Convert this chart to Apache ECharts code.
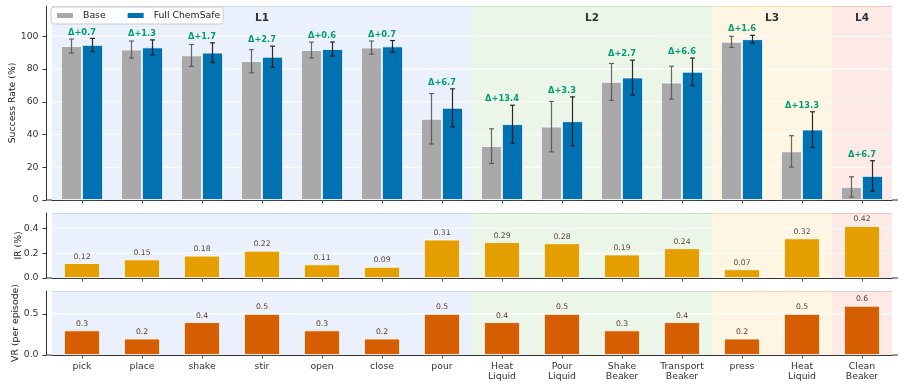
<!DOCTYPE html>
<html><head><meta charset="utf-8">
<script src="https://cdn.jsdelivr.net/npm/echarts@6/dist/echarts.min.js"></script>
<style>html,body{margin:0;padding:0;background:#fff}#c{width:905px;height:388px}</style>
</head><body><div id="c"></div>
<script>
const categories = ['pick','place','shake','stir','open','close','pour','Heat\nLiquid','Pour\nLiquid','Shake\nBeaker','Transport\nBeaker','press','Heat\nLiquid','Clean\nBeaker'];
const baseSR  = [94.0,91.9,88.3,84.8,91.6,93.1,49.6,32.9,44.8,72.1,71.7,96.6,29.7,8.0];
const baseErr = [4.3,5.2,6.7,7.1,4.8,4.0,15.4,10.6,15.4,11.3,10.0,3.4,9.6,6.2];
const fullSR  = [94.7,93.2,90.0,87.5,92.2,93.8,56.3,46.3,48.1,74.8,78.3,98.2,43.0,14.7];
const fullErr = [4.0,4.6,6.0,6.5,4.3,3.6,11.6,11.6,14.9,10.6,8.4,2.4,10.9,9.3];
const deltas  = ['+0.7','+1.3','+1.7','+2.7','+0.6','+0.7','+6.7','+13.4','+3.3','+2.7','+6.6','+1.6','+13.3','+6.7'];
const irValues = [0.12,0.15,0.18,0.22,0.11,0.09,0.31,0.29,0.28,0.19,0.24,0.07,0.32,0.42];
const vrValues = [0.3,0.2,0.4,0.5,0.3,0.2,0.5,0.4,0.5,0.3,0.4,0.2,0.5,0.6];
const levels = ['L1','L2','L3','L4'];
const levelStart = [0,7,11,13];
const levelEnd   = [6,10,12,13];
const srTicks = [0,20,40,60,80,100];
const irTicks = [0,0.2,0.4];
const vrTicks = [0,0.5];
const srMax = 118.5, irMax = 0.525, vrMax = 0.78;
const levelLabelValue = 111;

const FONT = 'DejaVu Sans';
const bandFill = ['#eaf1fc','#ebf6e9','#fef5e2','#fde9e6'];
const bandEdge = ['#c8dbf3','#c5e4bf','#f4dcb0','#f3c6bd'];

const chart = echarts.init(document.getElementById('c'), null, {renderer:'canvas'});

function bandRender(ticks, ymax, showText){
  return function(params, api){
    const s = api.value(0), e = api.value(1), li = api.value(2);
    const w = api.size([1,0])[0];
    const pTop = api.coord([s, ymax]);
    const pEnd = api.coord([e, 0]);
    const x0 = pTop[0]-w/2, x1 = pEnd[0]+w/2, y0 = pTop[1], y1 = pEnd[1];
    const children = [{type:'rect', shape:{x:x0,y:y0,width:x1-x0,height:y1-y0}, style:{fill:bandFill[li]}}];
    ticks.forEach(t=>{
      if(t<=0) return;
      const y = api.coord([s,t])[1];
      children.push({type:'line', shape:{x1:x0,y1:y,x2:x1,y2:y}, style:{stroke:'#ffffff',lineWidth:1.2}});
    });
    children.push({type:'line', shape:{x1:x0,y1:y0+0.5,x2:x1,y2:y0+0.5}, style:{stroke:bandEdge[li],lineWidth:1}});
    if(showText){
      const ty = api.coord([s, levelLabelValue])[1];
      children.push({type:'text', style:{text:levels[li], x:(x0+x1)/2, y:ty, align:'center', verticalAlign:'middle', fill:'#333', font:'bold 10.5px '+FONT}});
    }
    return {type:'group', children};
  };
}
function errRender(offset, color){
  return function(params, api){
    const i=api.value(0), v=api.value(1), e=api.value(2);
    const pHi=api.coord([i, v+e]), pLo=api.coord([i, v-e]);
    const x = pHi[0]+offset;
    const st = {stroke:color, lineWidth:1.2};
    return {type:'group', children:[
      {type:'line', shape:{x1:x,y1:pHi[1],x2:x,y2:pLo[1]}, style:st},
      {type:'line', shape:{x1:x-2.5,y1:pHi[1],x2:x+2.5,y2:pHi[1]}, style:st},
      {type:'line', shape:{x1:x-2.5,y1:pLo[1],x2:x+2.5,y2:pLo[1]}, style:st}
    ]};
  };
}
const bandData = levels.map((n,i)=>[levelStart[i], levelEnd[i], i]);
const grids = [
  {left:52, width:840, top:6, height:194, containLabel:false, outerBoundsMode:'none'},
  {left:52, width:840, top:213, height:65, containLabel:false, outerBoundsMode:'none'},
  {left:52, width:840, top:291, height:64, containLabel:false, outerBoundsMode:'none'}
];
function xAx(gi, showLabel){
  return {type:'category', gridIndex:gi, data:categories, boundaryGap:true,
    axisLine:{show:true, lineStyle:{color:'#333', width:1}},
    axisTick:{show:true, alignWithLabel:true, length:3.5, lineStyle:{color:'#555', width:1}},
    axisLabel:{show:showLabel, interval:0, fontFamily:FONT, fontSize:9.3, color:'#333', lineHeight:10.5, margin:6},
    splitLine:{show:false}};
}
function yAx(gi, max, ticks, name, gap, fmt){
  return {type:'value', gridIndex:gi, min:0, max:max, offset:6,
    name:name, nameLocation:'middle', nameGap:gap, nameRotate:90, nameMoveOverlap:false,
    nameTextStyle:{fontFamily:FONT, fontSize:9.3, color:'#222'},
    axisLine:{show:true, lineStyle:{color:'#333', width:1}},
    axisTick:{show:true, length:3.5, customValues:ticks, lineStyle:{color:'#333'}},
    axisLabel:{show:true, customValues:ticks, formatter:fmt, fontFamily:FONT, fontSize:9.3, color:'#333', margin:7.5},
    splitLine:{show:false}};
}
const option = {
  animation:false,
  backgroundColor:'#ffffff',
  textStyle:{fontFamily:FONT},
  grid:grids,
  legend:{show:true, left:51, top:7, orient:'horizontal', data:['Base','Full ChemSafe'], icon:'rect', itemWidth:18, itemHeight:7, itemGap:20,
    padding:[4,3,4,4], backgroundColor:'rgba(255,255,255,0.85)', borderColor:'#cccccc', borderWidth:1, borderRadius:3,
    textStyle:{fontFamily:FONT, fontSize:9.3, color:'#222', padding:[0,0,0,4]}},
  xAxis:[xAx(0,false), xAx(1,false), xAx(2,true)],
  yAxis:[
    yAx(0, srMax, srTicks, 'Success Rate (%)', 29, v=>String(Math.round(v))),
    yAx(1, irMax, irTicks, 'IR (%)', 23, v=>v.toFixed(1)),
    yAx(2, vrMax, vrTicks, 'VR (per episode)', 25.5, v=>v.toFixed(1))
  ],
  graphic:[
    {type:'line', shape:{x1:46,y1:200,x2:52,y2:200}, style:{stroke:'#333',lineWidth:1}},
    {type:'line', shape:{x1:892,y1:200,x2:898,y2:200}, style:{stroke:'#333',lineWidth:1}},
    {type:'line', shape:{x1:46,y1:278,x2:52,y2:278}, style:{stroke:'#333',lineWidth:1}},
    {type:'line', shape:{x1:892,y1:278,x2:898,y2:278}, style:{stroke:'#333',lineWidth:1}},
    {type:'line', shape:{x1:46,y1:355,x2:52,y2:355}, style:{stroke:'#333',lineWidth:1}},
    {type:'line', shape:{x1:892,y1:355,x2:898,y2:355}, style:{stroke:'#333',lineWidth:1}}
  ],
  series:[
    {type:'custom', name:'bands0', xAxisIndex:0, yAxisIndex:0, z:-1, silent:true, data:bandData, renderItem:bandRender(srTicks, srMax, true)},
    {type:'custom', name:'bands1', xAxisIndex:1, yAxisIndex:1, z:-1, silent:true, data:bandData, renderItem:bandRender(irTicks, irMax, false)},
    {type:'custom', name:'bands2', xAxisIndex:2, yAxisIndex:2, z:-1, silent:true, data:bandData, renderItem:bandRender(vrTicks, vrMax, false)},
    {type:'bar', name:'Base', xAxisIndex:0, yAxisIndex:0, data:baseSR, barWidth:21, barGap:'0%',
      itemStyle:{color:'#a9a9ab', borderColor:'#ffffff', borderWidth:0.8}},
    {type:'bar', name:'Full ChemSafe', xAxisIndex:0, yAxisIndex:0, data:fullSR, barWidth:21, barGap:'0%',
      itemStyle:{color:'#0072b2', borderColor:'#ffffff', borderWidth:0.8}},
    {type:'custom', xAxisIndex:0, yAxisIndex:0, z:5, silent:true, data:baseSR.map((v,i)=>[i,v,baseErr[i]]), renderItem:errRender(-10.5,'rgba(80,80,80,0.85)')},
    {type:'custom', xAxisIndex:0, yAxisIndex:0, z:5, silent:true, data:fullSR.map((v,i)=>[i,v,fullErr[i]]), renderItem:errRender(10.5,'rgba(20,20,20,0.9)')},
    {type:'custom', xAxisIndex:0, yAxisIndex:0, z:6, silent:true,
      data:baseSR.map((v,i)=>[i, Math.max(v+baseErr[i], fullSR[i]+fullErr[i])]),
      renderItem:function(params, api){
        const i = api.value(0), top = api.value(1);
        const p = api.coord([i, top]);
        return {type:'text', style:{text:'\u0394'+deltas[i], x:p[0], y:p[1]-2, align:'center', verticalAlign:'bottom', fill:'#009e73', font:'bold 8.3px '+FONT}};
      }},
    {type:'bar', name:'IR', xAxisIndex:1, yAxisIndex:1, data:irValues, barWidth:36,
      itemStyle:{color:'#e69f00', borderColor:'#ffffff', borderWidth:0.8},
      label:{show:true, position:'top', distance:2.5, fontFamily:FONT, fontSize:7.7, color:'#5e4a38', formatter:p=>String(p.value)}},
    {type:'bar', name:'VR', xAxisIndex:2, yAxisIndex:2, data:vrValues, barWidth:36,
      itemStyle:{color:'#d55e00', borderColor:'#ffffff', borderWidth:0.8},
      label:{show:true, position:'top', distance:2.5, fontFamily:FONT, fontSize:7.7, color:'#663a28', formatter:p=>String(p.value)}}
  ]
};
chart.setOption(option);
</script>
</body></html>
